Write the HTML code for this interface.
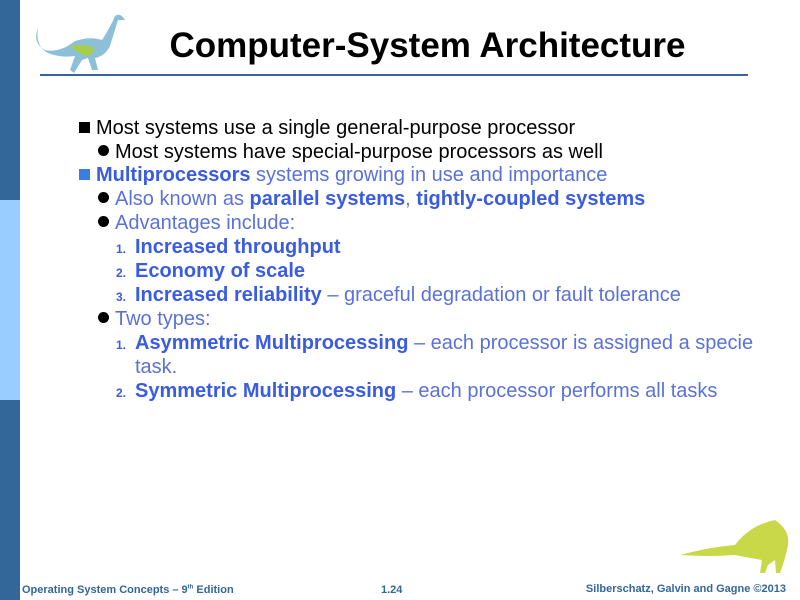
<!DOCTYPE html>
<html><head><meta charset="utf-8"><style>
body{margin:0;width:800px;height:600px;position:relative;background:#fff;font-family:"Liberation Sans",sans-serif;overflow:hidden}
.bar{position:absolute;left:0;width:20px}
.t{position:absolute;white-space:nowrap;font-size:20px;line-height:22px}
.k{color:#000}.b{color:#5a72d8}.bb{color:#3a5ce0;font-weight:bold}
.sq{display:inline-block;width:11px;height:11px;margin-right:6px;vertical-align:1px}
.dot{display:inline-block;width:11px;height:11px;border-radius:50%;background:#000;margin-right:6px;vertical-align:2px}
.num{display:inline-block;width:19px;font-size:12px;font-weight:bold;color:#3a5ce0}
</style></head><body>
<div class="bar" style="top:0;height:200px;background:#336699"></div>
<div class="bar" style="top:200px;height:200px;background:#99ccff"></div>
<div class="bar" style="top:400px;height:200px;background:#336699"></div>
<svg style="position:absolute;left:30px;top:8px" width="95" height="65">
<path d="M8,20 Q2,35 15,42 Q30,45 45,33 Q60,28 72,32 Q80,20 85,8 Q90,4 95,12 L88,12 Q84,25 80,38 Q75,48 65,50 L68,62 L62,62 L58,50 L52,52 L44,65 L40,62 L45,48 Q30,50 18,45 Q5,38 8,20Z" fill="#8bc0d8"/>
<path d="M40,38 Q55,35 65,40 L60,48 Q50,48 40,38Z" fill="#a8cc50"/>
</svg>
<div style="position:absolute;left:0;width:800px;text-align:center;top:26px;font-size:35px;font-weight:bold;padding-left:55px;box-sizing:border-box">Computer-System Architecture</div>
<div style="position:absolute;left:40px;top:74px;width:708px;height:2px;background:#336699"></div>
<div class="t k" style="left:79px;top:117px"><span class="sq" style="background:#000"></span>Most systems use a single general-purpose processor</div>
<div class="t k" style="left:98px;top:141px"><span class="dot"></span>Most systems have special-purpose processors as well</div>
<div class="t b" style="left:79px;top:164px"><span class="sq" style="background:#3a7fe0"></span><span class="bb">Multiprocessors</span> systems growing in use and importance</div>
<div class="t b" style="left:98px;top:188px"><span class="dot"></span>Also known as <span class="bb">parallel systems</span>, <span class="bb">tightly-coupled systems</span></div>
<div class="t b" style="left:98px;top:212px"><span class="dot"></span>Advantages include:</div>
<div class="t b" style="left:116px;top:236px"><span class="num">1.</span><span class="bb">Increased throughput</span></div>
<div class="t b" style="left:116px;top:260px"><span class="num">2.</span><span class="bb">Economy of scale</span></div>
<div class="t b" style="left:116px;top:284px"><span class="num">3.</span><span class="bb">Increased reliability</span> – graceful degradation or fault tolerance</div>
<div class="t b" style="left:98px;top:308px"><span class="dot"></span>Two types:</div>
<div class="t b" style="left:116px;top:332px"><span class="num">1.</span><span class="bb">Asymmetric Multiprocessing</span> – each processor is assigned a specie</div>
<div class="t b" style="left:135px;top:356px">task.</div>
<div class="t b" style="left:116px;top:380px"><span class="num">2.</span><span class="bb">Symmetric Multiprocessing</span> – each processor performs all tasks</div>
<svg style="position:absolute;left:680px;top:515px" width="115" height="62">
<path d="M0,40 Q30,32 55,30 Q70,10 95,5 Q110,15 108,30 Q105,45 100,58 L96,58 L95,45 L88,50 L85,58 L80,58 L82,45 Q65,42 55,40 Q30,42 0,40Z" fill="#c8d848"/>
</svg>
<div style="position:absolute;left:22px;top:584px;font-size:11px;font-weight:bold;color:#336699">Operating System Concepts – 9<sup style="font-size:6px">th</sup> Edition</div>
<div style="position:absolute;left:381px;top:584px;font-size:11px;font-weight:bold;color:#336699">1.24</div>
<div style="position:absolute;right:14px;top:583px;font-size:11px;font-weight:bold;color:#336699">Silberschatz, Galvin and Gagne ©2013</div>
</body></html>
